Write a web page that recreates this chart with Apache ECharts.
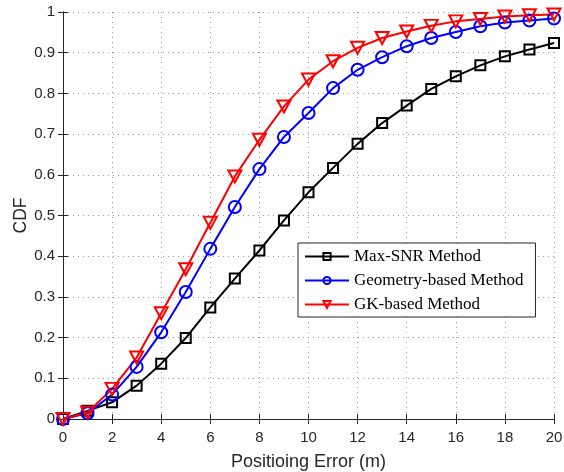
<!DOCTYPE html>
<html>
<head>
<meta charset="utf-8">
<script src="https://cdn.jsdelivr.net/npm/echarts@6/dist/echarts.min.js"></script>
<style>
  html, body { margin: 0; padding: 0; background: #fff; }
  #main { width: 564px; height: 472px; }
</style>
</head>
<body>
<div id="main"></div>
<script>
var chartDom = document.getElementById('main');
var myChart = echarts.init(chartDom);
var option;

// 横轴：定位误差 (m)
const errors = [0, 1, 2, 3, 4, 5, 6, 7, 8, 9, 10, 11, 12, 13, 14, 15, 16, 17, 18, 19, 20];
// 三种方法的 CDF
const maxSnr = [0, 0.020, 0.041, 0.082, 0.136, 0.199, 0.274, 0.345, 0.414, 0.488, 0.557,
  0.617, 0.676, 0.727, 0.770, 0.811, 0.842, 0.869, 0.891, 0.908, 0.924];
const geometry = [0, 0.014, 0.060, 0.128, 0.213, 0.312, 0.418, 0.521, 0.614, 0.693, 0.752,
  0.813, 0.858, 0.889, 0.916, 0.936, 0.951, 0.965, 0.974, 0.979, 0.984];
const gkBased = [0, 0.016, 0.074, 0.151, 0.260, 0.368, 0.482, 0.596, 0.686, 0.768, 0.834,
  0.879, 0.912, 0.936, 0.952, 0.966, 0.977, 0.983, 0.989, 0.992, 0.994];
const yTicks = [0, 0.1, 0.2, 0.3, 0.4, 0.5, 0.6, 0.7, 0.8, 0.9, 1];

const sans = 'Liberation Sans, Arial, sans-serif';
const labelFont = { color: '#262626', fontSize: 15, fontFamily: sans };
const gridLine = { show: true, lineStyle: { color: '#9a9a9a', type: [1, 4], width: 1 } };

function pairs(vals) {
  return vals.map((v, i) => [errors[i], v]);
}

function makeSeries(name, vals, color, symbol, size, rotate) {
  return {
    name: name,
    type: 'line',
    data: pairs(vals),
    symbol: symbol,
    symbolSize: size,
    symbolRotate: rotate || 0,
    showAllSymbol: true,
    lineStyle: { color: color, width: 2 },
    itemStyle: { color: 'transparent', borderColor: color, borderWidth: 2 },
    emphasis: { disabled: true },
    animation: false,
    z: 3
  };
}

option = {
  backgroundColor: '#fff',
  animation: false,
  grid: { left: 63, right: 10, top: 12, bottom: 53, containLabel: false, outerBoundsMode: 'none' },
  legend: {
    orient: 'vertical',
    left: 298,
    top: 243,
    width: 238,
    backgroundColor: '#fff',
    borderColor: '#262626',
    borderWidth: 1,
    padding: [5, 12, 4, 6],
    itemGap: 7,
    itemWidth: 44,
    itemHeight: 9,
    lineStyle: { width: 2 },
    itemStyle: { borderWidth: 2 },
    textStyle: { fontFamily: 'Liberation Serif, Times New Roman, serif', fontSize: 17, color: '#000' },
    data: ['Max-SNR Method', 'Geometry-based Method', 'GK-based Method']
  },
  xAxis: [{
    type: 'value',
    min: 0, max: 20, interval: 2,
    name: 'Positioing Error (m)',
    nameLocation: 'middle',
    nameGap: 34,
    nameMoveOverlap: false,
    nameTextStyle: { color: '#262626', fontSize: 18, fontFamily: sans },
    axisLine: { lineStyle: { color: '#262626', width: 1 } },
    axisTick: { inside: true, length: 5, lineStyle: { color: '#262626' } },
    axisLabel: Object.assign({ margin: 11 }, labelFont),
    splitLine: gridLine
  }, {
    type: 'value', position: 'top',
    min: 0, max: 20, interval: 2,
    axisLine: { lineStyle: { color: '#262626', width: 1 } },
    axisTick: { inside: true, length: 5, lineStyle: { color: '#262626' } },
    axisLabel: { show: false },
    splitLine: { show: false }
  }],
  yAxis: [{
    type: 'value',
    min: 0, max: 1, interval: 0.1,
    name: 'CDF',
    nameLocation: 'middle',
    nameGap: 33,
    nameMoveOverlap: false,
    nameTextStyle: { color: '#262626', fontSize: 17.5, fontFamily: sans },
    axisLine: { show: true, lineStyle: { color: '#262626', width: 1 } },
    axisTick: { show: true, inside: true, length: 5, lineStyle: { color: '#262626' } },
    axisLabel: Object.assign({
      margin: 8,
      formatter: function (v) {
        var r = Math.round(v * 10) / 10;
        return yTicks.indexOf(r) >= 0 ? String(r) : '';
      }
    }, labelFont),
    splitLine: gridLine
  }, {
    type: 'value', position: 'right',
    min: 0, max: 1, interval: 0.1,
    axisLine: { show: true, lineStyle: { color: '#262626', width: 1 } },
    axisTick: { show: true, inside: true, length: 5, lineStyle: { color: '#262626' } },
    axisLabel: { show: false },
    splitLine: { show: false }
  }],
  series: [
    makeSeries('Max-SNR Method', maxSnr, '#000000', 'rect', 10),
    makeSeries('Geometry-based Method', geometry, '#0000ff', 'circle', 12),
    makeSeries('GK-based Method', gkBased, '#ff0000', 'triangle', [13, 12], 180)
  ]
};

option && myChart.setOption(option);
</script>
</body>
</html>
